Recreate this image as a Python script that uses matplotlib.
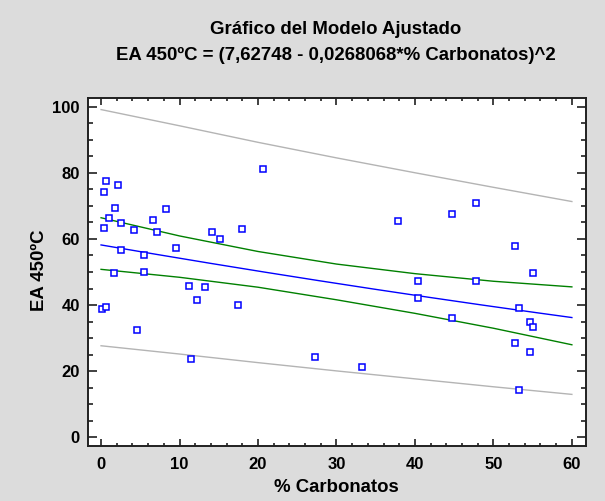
import numpy as np
import matplotlib
matplotlib.use('Agg')
import matplotlib.pyplot as plt
from matplotlib.ticker import MultipleLocator

plt.rcParams['font.family'] = ['Liberation Sans', 'DejaVu Sans']

# Observaciones: % carbonatos vs EA a 450ºC
carbonatos = [0.6, 2.1, 0.34, 20.7, 1.75, 8.3, 1.06, 6.67, 0.34, 2.5,
              4.2, 7.1, 14.1, 15.1, 18.0, 2.5, 9.6, 5.5, 1.6, 5.5,
              11.2, 13.2, 37.9, 44.7, 47.8, 52.7, 55.0, 40.4, 47.8, 12.2,
              17.4, 0.17, 0.6, 4.55, 11.5, 27.3, 40.4, 53.3, 44.7, 54.6,
              55.1, 52.8, 54.6, 33.3, 53.3]
ea_450 = [77.5, 76.4, 74.3, 81.2, 69.3, 69.0, 66.2, 65.8, 63.4, 64.8,
          62.8, 62.1, 62.0, 60.0, 63.1, 56.7, 57.3, 55.1, 49.7, 50.1,
          45.9, 45.4, 65.4, 67.5, 71.0, 58.0, 49.7, 47.4, 47.4, 41.4,
          40.1, 38.8, 39.4, 32.5, 23.7, 24.4, 42.2, 39.1, 36.0, 35.0,
          33.3, 28.5, 25.8, 21.3, 14.4]

# Coeficientes del modelo: EA = (a - b*x)^2
a_coef = 7.62748
b_coef = 0.0268068

# Limites de confianza (media) y de prediccion
x_bandas = [0, 10, 20, 30, 40, 50, 60]
pred_sup = [99.1, 94.2, 89.2, 84.5, 80.0, 75.6, 71.3]
conf_sup = [66.4, 60.9, 56.2, 52.4, 49.5, 47.2, 45.5]
conf_inf = [50.8, 48.4, 45.4, 41.6, 37.5, 33.0, 28.0]
pred_inf = [27.7, 25.2, 22.6, 20.1, 17.7, 15.3, 13.0]

fondo = '#dcdcdc'
fig = plt.figure(figsize=(6.05, 5.01), dpi=100, facecolor=fondo)
ax = fig.add_axes([0.1455, 0.1098, 0.8231, 0.6946])
ax.set_facecolor('white')

x_mod = np.linspace(0, 60, 200)
ax.plot(x_mod, (a_coef - b_coef * x_mod) ** 2, color='#0000ff', lw=1.0, zorder=3)
ax.plot(x_bandas, conf_sup, color='#008000', lw=1.0, zorder=3)
ax.plot(x_bandas, conf_inf, color='#008000', lw=1.0, zorder=3)
ax.plot(x_bandas, pred_sup, color='#b4b4b4', lw=1.0, zorder=2)
ax.plot(x_bandas, pred_inf, color='#b4b4b4', lw=1.0, zorder=2)

ax.plot(carbonatos, ea_450, ls='none', marker='s', ms=4.2, mfc='white',
        mec='#0000ff', mew=1.1, zorder=4)

ax.set_xlim(-1.66, 61.8)
ax.set_ylim(-2.6, 102.6)
ax.xaxis.set_major_locator(MultipleLocator(10))
ax.xaxis.set_minor_locator(MultipleLocator(2))
ax.yaxis.set_major_locator(MultipleLocator(20))
ax.yaxis.set_minor_locator(MultipleLocator(5))

ax.tick_params(axis='both', which='both', direction='in', top=True, right=True,
               color='#202020', width=1.2)
ax.tick_params(axis='x', which='major', length=4.8, pad=8)
ax.tick_params(axis='x', which='minor', length=2.4)
ax.tick_params(axis='y', which='major', length=6.5, pad=6)
ax.tick_params(axis='y', which='minor', length=3.6)
for lbl in ax.get_xticklabels() + ax.get_yticklabels():
    lbl.set_fontsize(12)
    lbl.set_fontweight('bold')
for sp in ax.spines.values():
    sp.set_linewidth(1.4)
    sp.set_color('#202020')

fig.text(336 / 605, 1 - 29.5 / 501, 'Gráfico del Modelo Ajustado',
         ha='center', va='center', fontsize=13.4, fontweight='bold')
fig.text(336 / 605, 1 - 55.5 / 501,
         'EA 450ºC = (7,62748 - 0,0268068*% Carbonatos)^2',
         ha='center', va='center', fontsize=13.4, fontweight='bold')
fig.text(336 / 605, 1 - 488 / 501, '% Carbonatos',
         ha='center', va='center', fontsize=13.4, fontweight='bold')
fig.text(40 / 605, 1 - 270 / 501, 'EA 450ºC', rotation=90,
         ha='center', va='center', fontsize=13.4, fontweight='bold')

fig.savefig('out.png', dpi=100, facecolor=fondo)
